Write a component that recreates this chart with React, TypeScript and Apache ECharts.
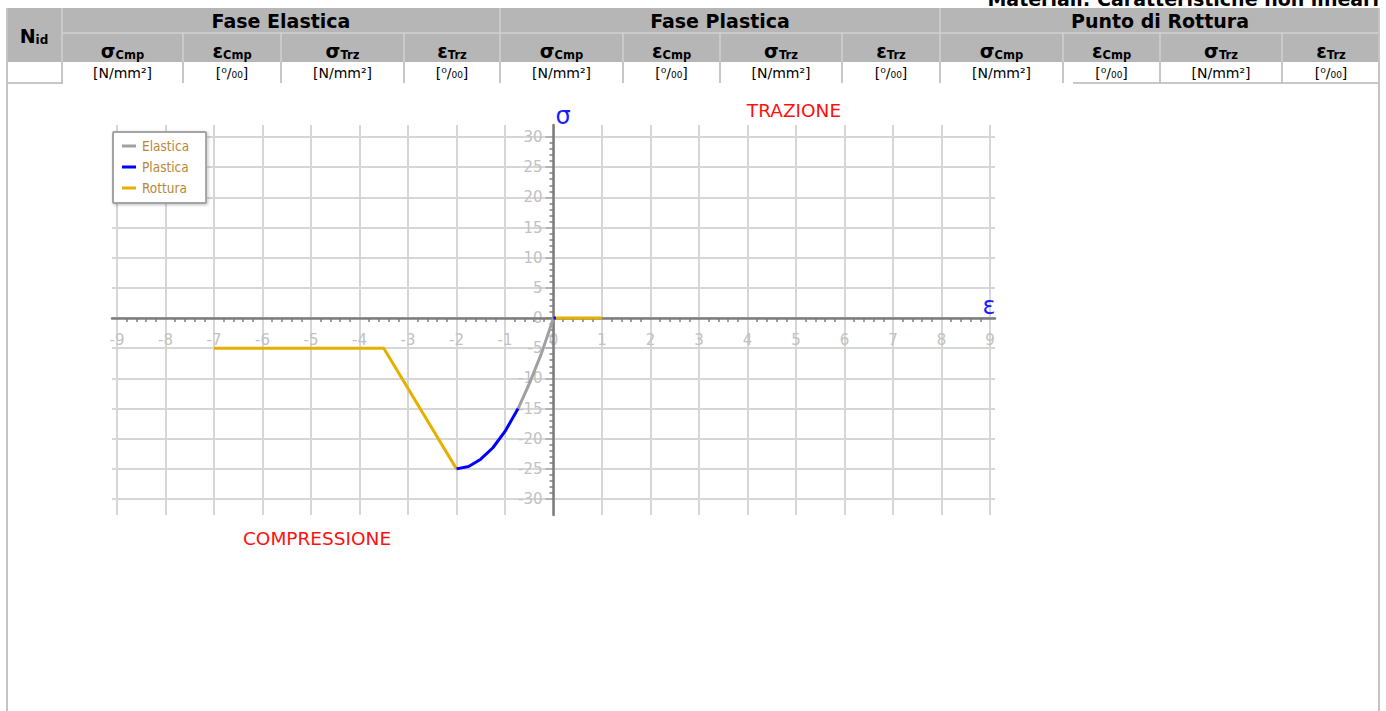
import React, { useEffect, useRef } from "react";
import * as echarts from "echarts";

// ---- table header content ----
const pageTitle = "Materiali: Caratteristiche non lineari";
const groupTitles = ["Fase Elastica", "Fase Plastica", "Punto di Rottura"];
const subSymbols = ["σ", "ε", "σ", "ε"];
const subSuffixes = ["Cmp", "Cmp", "Trz", "Trz"];
const unitLabels = ["[N/mm²]", "[⁰/₀₀]", "[N/mm²]", "[⁰/₀₀]"];

// ---- constitutive law (strain ‰, stress N/mm²) ----
const elasticaEps = [0, -0.25, -0.5, -0.73];
const elasticaSig = [0, -5.9, -10.9, -15];
const plasticaEps = [-0.73, -1, -1.25, -1.5, -1.75, -2];
const plasticaSig = [-15, -18.8, -21.5, -23.4, -24.6, -25];
const plasticaTrzEps = [0, 0.05];
const plasticaTrzSig = [0, 0];
const rotturaCmpEps = [-2, -3.5, -7];
const rotturaCmpSig = [-25, -5, -5];
const rotturaTrzEps = [0, 1];
const rotturaTrzSig = [0, 0];

// axis ranges
const epsMin = -9;
const epsMax = 9;
const sigMin = -30;
const sigMax = 30;

const pairs = (xs: number[], ys: number[]) => xs.map((x, i) => [x, ys[i]]);

const FONT = "'DejaVu Sans', Verdana, sans-serif";
const FONT_C = "'DejaVu Sans Condensed', 'DejaVu Sans', sans-serif";

// table geometry
const TL = 6;
const TR = 1380;
const R1 = 8;
const R2 = 33;
const R3 = 62;
const R4 = 83;
const colEdges = [62, 183, 281, 404, 500, 623, 720, 842, 940, 1063, 1160, 1282, 1380];
const HEAD_BG = "#b6b6b6";
const HEAD_LINE = "#d0d0d0";
const CELL_LINE = "#b4b4b4";
const FRAME = "#c4c4c4";

// plot geometry: strain/stress origin on the page
const ORIGIN_X = 553.5;
const ORIGIN_Y = 318;
const G1 = { left: 112, top: 137, width: 883, height: 362 };
const G2 = { left: 117, top: 125, width: 873, height: 390 };

function line(x1: number, y1: number, x2: number, y2: number, stroke: string, w: number) {
  return {
    type: "line",
    silent: true,
    shape: { x1, y1, x2, y2 },
    style: { stroke, lineWidth: w },
    z: 10,
  };
}

function buildTable() {
  const g: any[] = [];
  g.push({
    type: "text",
    silent: true,
    z: 10,
    style: {
      text: pageTitle,
      x: 1379,
      y: 8,
      align: "right",
      verticalAlign: "bottom",
      font: `bold 19px ${FONT}`,
      fill: "#000",
    },
  });
  g.push({
    type: "rect",
    silent: true,
    z: 9,
    shape: { x: TL, y: R1, width: TR - TL, height: R3 - R1 },
    style: { fill: HEAD_BG },
  });
  // header separators
  g.push(line(colEdges[0], R2, TR, R2, HEAD_LINE, 1.5));
  colEdges.forEach((x, i) => {
    if (i === colEdges.length - 1) return;
    const top = i % 4 === 0 ? R1 : R2;
    g.push(line(x, top, x, R3, HEAD_LINE, 1.5));
    g.push(line(x, R3, x, R4, CELL_LINE, 1.5));
  });
  // unit row borders
  g.push(line(TL, R4, 63, R4, CELL_LINE, 1.5));
  g.push(line(1073, R4, TR, R4, CELL_LINE, 1.5));
  // outer frame
  g.push(line(TL + 1, R1, TL + 1, 711, FRAME, 2));
  g.push(line(TR - 1, R1, TR - 1, 711, FRAME, 2));

  // N_id
  g.push({
    type: "text",
    silent: true,
    z: 11,
    style: {
      text: "{n|N}{s|id}",
      x: 34,
      y: 36,
      align: "center",
      verticalAlign: "middle",
      rich: {
        n: { font: `bold 19px ${FONT}`, fill: "#000", verticalAlign: "bottom" },
        s: { font: `bold 12px ${FONT}`, fill: "#000", verticalAlign: "bottom" },
      },
    },
  });

  groupTitles.forEach((title, gi) => {
    const x0 = colEdges[gi * 4];
    const x1 = colEdges[gi * 4 + 4];
    g.push({
      type: "text",
      silent: true,
      z: 11,
      style: {
        text: title,
        x: (x0 + x1) / 2,
        y: 21,
        align: "center",
        verticalAlign: "middle",
        font: `bold 19px ${FONT}`,
        fill: "#000",
      },
    });
    subSymbols.forEach((sym, si) => {
      const c0 = colEdges[gi * 4 + si];
      const c1 = colEdges[gi * 4 + si + 1];
      const cx = (c0 + c1) / 2;
      g.push({
        type: "text",
        silent: true,
        z: 11,
        style: {
          text: `{a|${sym}}{b|${subSuffixes[si]}}`,
          x: cx,
          y: 51,
          align: "center",
          verticalAlign: "middle",
          rich: {
            a: { font: `bold 19px ${FONT}`, fill: "#000", verticalAlign: "bottom" },
            b: { font: `bold 11.5px ${FONT}`, fill: "#000", verticalAlign: "bottom" },
          },
        },
      });
      g.push({
        type: "text",
        silent: true,
        z: 11,
        style: {
          text: unitLabels[si],
          x: cx,
          y: 73,
          align: "center",
          verticalAlign: "middle",
          font: `14px ${FONT}`,
          fill: "#000",
        },
      });
    });
  });
  return g;
}

function buildAnnotations() {
  return [
    {
      type: "text",
      silent: true,
      z: 12,
      style: { text: "TRAZIONE", x: 794, y: 110, align: "center", verticalAlign: "middle", font: `18.5px ${FONT}`, fill: "#ff1010" },
    },
    {
      type: "text",
      silent: true,
      z: 12,
      style: { text: "COMPRESSIONE", x: 317, y: 538, align: "center", verticalAlign: "middle", font: `18.5px ${FONT}`, fill: "#ff1010" },
    },
    {
      type: "text",
      silent: true,
      z: 12,
      style: { text: "σ", x: 563, y: 116, align: "center", verticalAlign: "middle", font: `24px ${FONT}`, fill: "#1a1aff" },
    },
    {
      type: "text",
      silent: true,
      z: 12,
      style: { text: "ε", x: 989, y: 306, align: "center", verticalAlign: "middle", font: `24px ${FONT}`, fill: "#1a1aff" },
    },
  ];
}

const GRID_LINE = "#d6d6d6";
const AXIS_DARK = "#7c7c7c";
const LABEL_GRAY = "#c2c2c2";

const option: any = {
  animation: false,
  backgroundColor: "#ffffff",
  grid: [
    // horizontal grid lines, stress labels and strain axis line
    { ...G1 },
    // vertical grid lines, strain labels, stress axis line and curves
    { ...G2 },
  ],
  xAxis: [
    {
      type: "value",
      gridIndex: 0,
      min: -9.1,
      max: 9.1,
      z: 1,
      axisLine: { show: true, onZero: true, lineStyle: { color: AXIS_DARK, width: 2.5 } },
      axisTick: { show: false },
      axisLabel: { show: false },
      splitLine: { show: false },
    },
    {
      type: "value",
      gridIndex: 1,
      min: epsMin,
      max: epsMax,
      interval: 1,
      z: 0,
      position: "bottom",
      offset: -(G2.top + G2.height - ORIGIN_Y),
      axisLine: { show: false, onZero: false },
      axisTick: { show: false },
      minorTick: { show: true, splitNumber: 5, length: 4, lineStyle: { color: AXIS_DARK, width: 1.5 } },
      axisLabel: { color: LABEL_GRAY, fontFamily: FONT, fontSize: 15, margin: 14 },
      splitLine: { show: true, lineStyle: { color: GRID_LINE, width: 2 } },
      minorSplitLine: { show: false },
    },
  ],
  yAxis: [
    {
      type: "value",
      gridIndex: 0,
      min: sigMin,
      max: sigMax,
      interval: 5,
      z: 0,
      position: "left",
      offset: -(ORIGIN_X - G1.left),
      axisLine: { show: false, onZero: false },
      axisTick: { show: true, length: 8, lineStyle: { color: "#a8a8a8", width: 1.5 } },
      minorTick: { show: true, splitNumber: 5, length: 4, lineStyle: { color: AXIS_DARK, width: 1.5 } },
      axisLabel: { color: LABEL_GRAY, fontFamily: FONT, fontSize: 15, margin: 11 },
      splitLine: { show: true, lineStyle: { color: GRID_LINE, width: 2 } },
    },
    {
      type: "value",
      gridIndex: 1,
      min: -32.65,
      max: 32,
      z: 1,
      axisLine: { show: true, onZero: true, lineStyle: { color: AXIS_DARK, width: 2.5 } },
      axisTick: { show: false },
      axisLabel: { show: false },
      splitLine: { show: false },
    },
  ],
  legend: {
    orient: "vertical",
    left: 113,
    top: 132,
    data: ["Elastica", "Plastica", "Rottura"],
    icon: "rect",
    itemWidth: 14,
    itemHeight: 3,
    itemGap: 7,
    padding: [7, 17, 8, 9],
    backgroundColor: "#ffffff",
    borderColor: "#a4a4a4",
    borderWidth: 2,
    borderRadius: 1,
    shadowColor: "rgba(0,0,0,0.25)",
    shadowBlur: 3,
    shadowOffsetX: 1,
    shadowOffsetY: 1,
    textStyle: { color: "#b8873a", fontFamily: FONT_C, fontSize: 13.5, padding: [0, 0, 0, 1] },
  },
  graphic: [...buildTable(), ...buildAnnotations()],
  series: [
    {
      name: "Rottura",
      type: "line",
      xAxisIndex: 1,
      yAxisIndex: 1,
      data: pairs(rotturaCmpEps, rotturaCmpSig),
      showSymbol: false,
      color: "#e6b000",
      lineStyle: { width: 3 },
      z: 3,
    },
    {
      name: "Rottura",
      type: "line",
      xAxisIndex: 1,
      yAxisIndex: 1,
      data: pairs(rotturaTrzEps, rotturaTrzSig),
      showSymbol: false,
      color: "#e6b000",
      lineStyle: { width: 3 },
      z: 3,
    },
    {
      name: "Elastica",
      type: "line",
      xAxisIndex: 1,
      yAxisIndex: 1,
      data: pairs(elasticaEps, elasticaSig),
      showSymbol: false,
      color: "#a0a0a0",
      lineStyle: { width: 3 },
      z: 4,
    },
    {
      name: "Plastica",
      type: "line",
      xAxisIndex: 1,
      yAxisIndex: 1,
      data: pairs(plasticaEps, plasticaSig),
      showSymbol: false,
      color: "#0000ff",
      lineStyle: { width: 3 },
      z: 4,
    },
    {
      name: "Plastica",
      type: "line",
      xAxisIndex: 1,
      yAxisIndex: 1,
      data: pairs(plasticaTrzEps, plasticaTrzSig),
      showSymbol: false,
      color: "#0000ff",
      lineStyle: { width: 3 },
      z: 5,
    },
  ],
};

export default function App() {
  const ref = useRef<HTMLDivElement>(null);
  useEffect(() => {
    document.body.style.margin = "0";
    document.body.style.overflow = "hidden";
    const chart = echarts.init(ref.current as HTMLDivElement, null, { renderer: "svg" });
    chart.setOption(option);
    return () => chart.dispose();
  }, []);
  return (
    <div
      ref={ref}
      style={{ position: "fixed", left: 0, top: 0, width: 1386, height: 711, background: "#fff" }}
    />
  );
}
